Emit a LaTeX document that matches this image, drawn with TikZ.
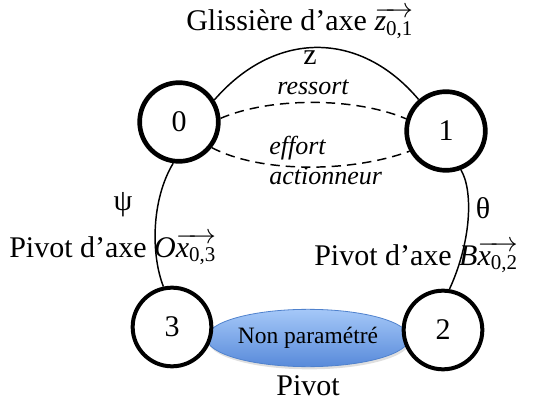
\documentclass[tikz,border=0pt]{standalone}
\usepackage{fontspec}
\setmainfont{Liberation Serif}
\usepackage{amsmath}
\usepackage{xcolor}
\usetikzlibrary{shapes.geometric,shadows}

\newcommand{\axevect}[2]{$\overrightarrow{\textit{#1}_{\text{#2}}}$}

\begin{document}
\begin{tikzpicture}[x=0.75pt,y=0.75pt,yscale=-1,xscale=1,
  piece/.style={circle,draw,fill=white,minimum size=59pt,inner sep=0pt,line width=3.5pt,font=\fontsize{22.5}{27}\selectfont},
  liaison/.style={line width=1.1pt},
  effortlink/.style={line width=1.1pt,dash pattern=on 7pt off 4.5pt},
  lbl/.style={inner sep=0.75pt,font=\fontsize{22.5}{27}\selectfont},
  lblit/.style={inner sep=0.75pt,font=\fontsize{19.5}{23}\selectfont\itshape}]
\useasboundingbox (0,0) rectangle (536,403);

%Shape: Ellipse (liaison non parametree)
\node [ellipse,minimum width=152pt,minimum height=43pt,inner sep=0pt,
  draw={rgb, 255:red, 80; green, 130; blue, 205 },line width=0.6pt,
  top color={rgb, 255:red, 165; green, 200; blue, 248 },
  bottom color={rgb, 255:red, 88; green, 138; blue, 218 },
  drop shadow={opacity=0.25,shadow xshift=1pt,shadow yshift=-2pt},
  font=\fontsize{17.6}{21}\selectfont] (lien) at (308,338) {Non paramétré};

%Shape: Circles (pieces)
\node [piece] (n0) at (179,122) {0};
\node [piece] (n1) at (446,131) {1};
\node [piece,line width=3pt] (n3) at (172,327) {3};
\node [piece,line width=3pt] (n2) at (443,330) {2};

%Curves
\draw [liaison] (n0.32) .. controls (275,30) and (360,30) .. (n1.131) ;
\draw [effortlink] (n0.5) .. controls (270,97) and (355,97) .. (n1.163) ;
\draw [effortlink] (n0.-38) .. controls (260,173) and (350,173) .. (n1.209) ;
\draw [liaison] (n0.-98) .. controls (151,200) and (151,255) .. (n3.102) ;
\draw [liaison] (n1.-69) .. controls (473,190) and (472,240) .. (n2.81) ;

% Text Node
\node [lbl,anchor=base west] (glis) at (185,31) {Glissière d’axe \axevect{z}{0,1}};
% Text Node
\node [lbl,anchor=base] (lz) at (310,65) {z};
% Text Node
\node [lblit,anchor=base] (ress) at (313,95) {ressort};
% Text Node
\node [lblit,anchor=base west] (eff) at (268,155) {effort};
% Text Node
\node [lblit,anchor=base west] (act) at (268,185) {actionneur};
% Text Node
\node [lbl] (psi) at (123,205) {ψ};
% Text Node
\node [lbl] (theta) at (483,208) {θ};
% Text Node
\node [lbl,anchor=base west] (pivO) at (8,257) {Pivot d’axe \textit{O}\axevect{x}{0,3}};
% Text Node
\node [lbl,anchor=base west] (pivB) at (313,265) {Pivot d’axe \textit{B}\axevect{x}{0,2}};
% Text Node
\node [lbl,anchor=base] (piv) at (308,395) {Pivot};

\end{tikzpicture}
\end{document}
